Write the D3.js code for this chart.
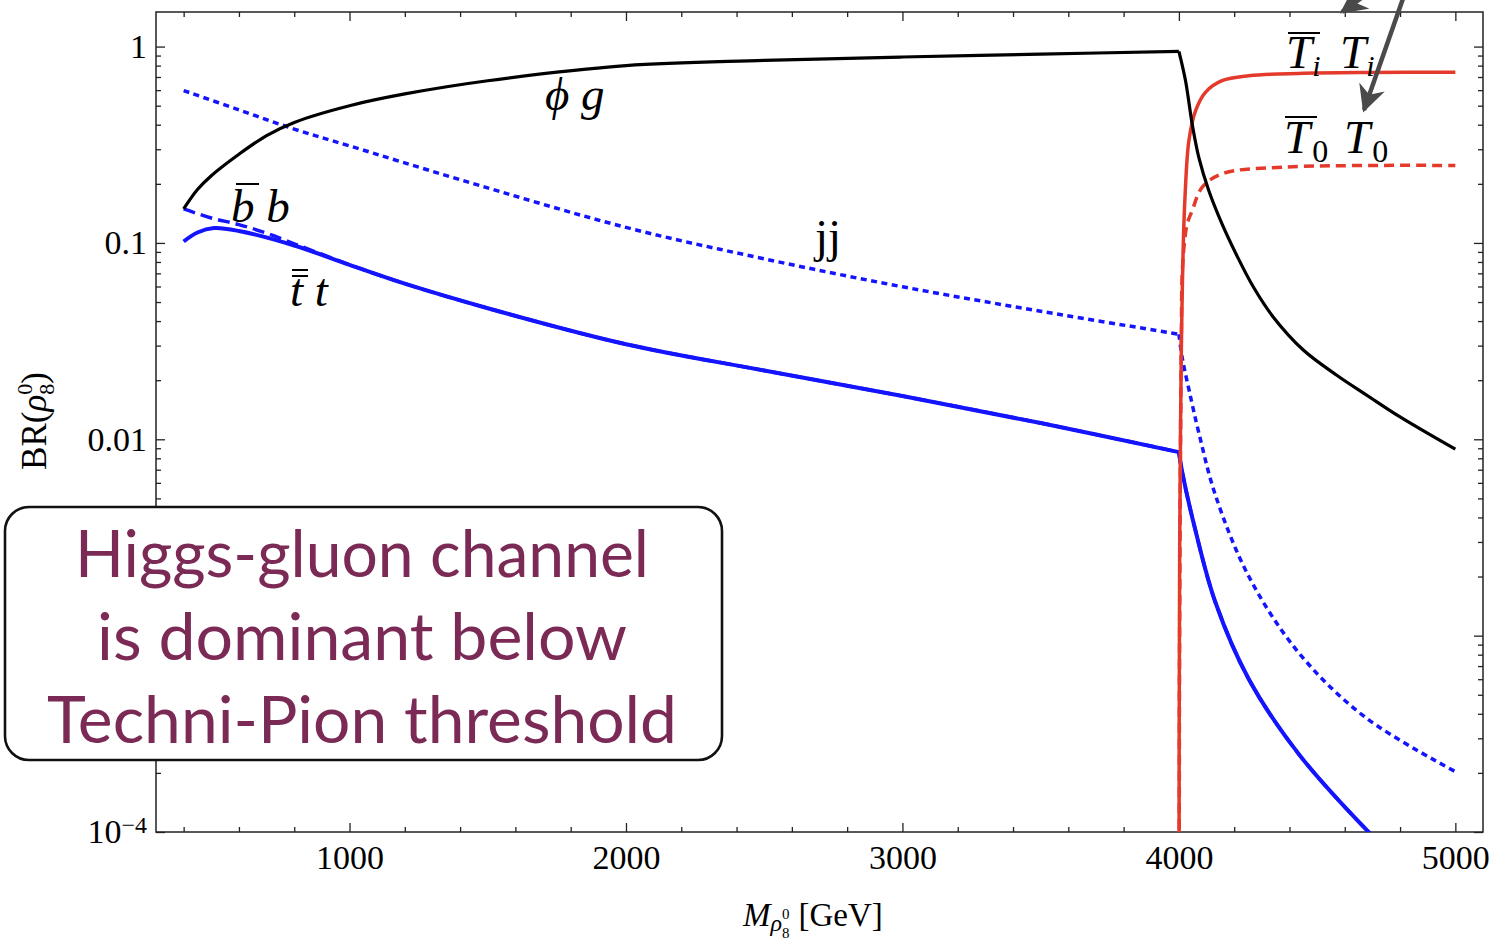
<!DOCTYPE html>
<html>
<head>
<meta charset="utf-8">
<script src="https://cdn.jsdelivr.net/npm/d3@7"></script>
<style>
  body { margin: 0; background: #fff; }
  svg text { font-family: "Liberation Serif", "DejaVu Serif", serif; }
</style>
</head>
<body>
<div id="chart"></div>
<script>
// mass in GeV, branching ratios
const massPhiG = [400, 450, 500, 600, 700, 800, 1000, 1200, 1500, 2000, 2500, 3000, 3500, 4000,
                  4024, 4048, 4072, 4108, 4156, 4209, 4269, 4341, 4450, 4571, 4679, 4800, 5000];
const brPhiG   = [0.149, 0.187, 0.22, 0.283, 0.352, 0.411, 0.50, 0.574, 0.67, 0.80, 0.85, 0.885, 0.915, 0.945,
                  0.67, 0.404, 0.273, 0.185, 0.125, 0.0866, 0.0598, 0.042, 0.0285, 0.0212, 0.0168, 0.0130, 0.0089];

const massJJ = [400, 600, 800, 1000, 1400, 2000, 2500, 3000, 3500, 4000,
                4012, 4036, 4072, 4132, 4253, 4433, 4673, 5000];
const brJJ   = [0.597, 0.476, 0.38, 0.312, 0.21, 0.12, 0.083, 0.0598, 0.0449, 0.0343,
                0.026, 0.018, 0.0108, 0.0052, 0.0020, 0.00082, 0.000385, 0.000203];

const massTT = [400, 450, 510, 600, 800, 1000, 1200, 1500, 2000, 2500, 3000, 3500, 4000,
                4012, 4060, 4132, 4253, 4433, 4686, 4800];
const brTT   = [0.1017, 0.113, 0.119, 0.115, 0.097, 0.0773, 0.062, 0.0465, 0.0305, 0.0224, 0.0166, 0.0121, 0.0086,
                0.0068, 0.00343, 0.00148, 0.0006, 0.00025, 0.0001, 0.00007];

const massBB = [400, 500, 600, 700, 800, 1000, 1200, 1500, 2000, 2500, 3000, 3500, 4000,
                4012, 4060, 4132, 4253, 4433, 4686, 4800];
const brBB   = [0.149, 0.134, 0.124, 0.112, 0.099, 0.0775, 0.062, 0.0465, 0.0305, 0.0224, 0.0166, 0.0121, 0.0086,
                0.0068, 0.00343, 0.00148, 0.0006, 0.00025, 0.0001, 0.00007];

const massTiTi = [4000, 4001, 4003, 4006, 4009, 4012, 4016, 4022, 4036, 4060, 4096, 4156, 4253, 4433, 4700, 5000];
const brTiTi   = [1e-7, 3e-4, 0.003, 0.012, 0.03, 0.055, 0.1, 0.17, 0.33, 0.47, 0.585, 0.67, 0.71, 0.73, 0.738, 0.74];

const massT0T0 = [4000, 4002, 4004, 4006, 4009, 4012, 4020, 4030, 4048, 4084, 4156, 4373, 5000];
const brT0T0   = [1e-7, 5e-4, 0.003, 0.01, 0.035, 0.07, 0.1, 0.125, 0.146, 0.192, 0.225, 0.243, 0.248];

const threshold = 4000; // techni-pion pair threshold, curves have a corner here

const xMajorTicks = [1000, 2000, 3000, 4000, 5000];
const xMinorTicks = d3.range(400, 5001, 200).filter(v => v % 1000 !== 0);
const yMajorTicks = [1e-4, 1e-3, 1e-2, 0.1, 1];
// the 0.001 label sits behind the annotation box in the original
const yTickLabels = ["10", "", "0.01", "0.1", "1"];
const yMinorTicks = [-4, -3, -2, -1].flatMap(e => d3.range(2, 10).map(k => k * Math.pow(10, e)));

const width = 1494, height = 940;
const plotLeft = 156, plotRight = 1483, plotTop = 12, plotBottom = 832;

const svg = d3.select("#chart").append("svg")
    .attr("width", width)
    .attr("height", height);

const x = d3.scaleLinear().domain([300, 5100]).range([plotLeft, plotRight]);
const y = d3.scaleLog().domain([1e-4, 1.5]).range([plotBottom, plotTop]);

svg.append("clipPath").attr("id", "plot-clip")
    .append("rect")
    .attr("x", plotLeft).attr("y", plotTop)
    .attr("width", plotRight - plotLeft).attr("height", plotBottom - plotTop);

// ticks (inward, Mathematica frame style)
const tickStyle = g => {
    g.select(".domain").remove();
    g.selectAll("line").attr("stroke", "#222").attr("stroke-width", 1.3);
    g.selectAll("text").attr("fill", "#000").style("font-size", "34px")
        .style("font-family", "'Liberation Serif', serif");
};

svg.append("g").attr("transform", `translate(0,${plotBottom})`)
    .call(d3.axisBottom(x).tickValues(xMinorTicks).tickSize(-5).tickFormat(""))
    .call(tickStyle);
svg.append("g").attr("transform", `translate(0,${plotBottom})`)
    .call(d3.axisBottom(x).tickValues(xMajorTicks).tickSize(-9).tickPadding(13).tickFormat(d3.format("d")))
    .call(tickStyle);
svg.append("g").attr("transform", `translate(0,${plotTop})`)
    .call(d3.axisTop(x).tickValues(xMinorTicks).tickSize(-5).tickFormat(""))
    .call(tickStyle);
svg.append("g").attr("transform", `translate(0,${plotTop})`)
    .call(d3.axisTop(x).tickValues(xMajorTicks).tickSize(-9).tickFormat(""))
    .call(tickStyle);

svg.append("g").attr("transform", `translate(${plotLeft},0)`)
    .call(d3.axisLeft(y).tickValues(yMinorTicks).tickSize(-5).tickFormat(""))
    .call(tickStyle);
const yAxisMajor = svg.append("g").attr("transform", `translate(${plotLeft},0)`)
    .call(d3.axisLeft(y).tickValues(yMajorTicks).tickSize(-9).tickPadding(9)
        .tickFormat((d, i) => yTickLabels[i]))
    .call(tickStyle);
yAxisMajor.selectAll("text").filter(d => d === 1e-4)
    .append("tspan").attr("dy", "-0.45em").style("font-size", "24px").text("\u22124");

svg.append("g").attr("transform", `translate(${plotRight},0)`)
    .call(d3.axisRight(y).tickValues(yMinorTicks).tickSize(-5).tickFormat(""))
    .call(tickStyle);
svg.append("g").attr("transform", `translate(${plotRight},0)`)
    .call(d3.axisRight(y).tickValues(yMajorTicks).tickSize(-9).tickFormat(""))
    .call(tickStyle);

// frame
svg.append("rect")
    .attr("x", plotLeft).attr("y", plotTop)
    .attr("width", plotRight - plotLeft).attr("height", plotBottom - plotTop)
    .attr("fill", "none").attr("stroke", "#222").attr("stroke-width", 1.5);

// curves
const series = [
    { mass: massTT, br: brTT, color: "#1414ff", width: 4, dash: null },
    { mass: massBB, br: brBB, color: "#1414ff", width: 3.5, dash: "12,6" },
    { mass: massJJ, br: brJJ, color: "#1414ff", width: 3.5, dash: "6,4.5" },
    { mass: massT0T0, br: brT0T0, color: "#e43a2c", width: 3.5, dash: "10,6" },
    { mass: massTiTi, br: brTiTi, color: "#e43a2c", width: 3.5, dash: null },
    { mass: massPhiG, br: brPhiG, color: "#000", width: 3.2, dash: null }
];

const line = d3.line()
    .x(d => x(d[0]))
    .y(d => y(d[1]))
    .curve(d3.curveCatmullRom.alpha(0.5));

// smooth below and above threshold separately so the corner stays sharp
const pieces = series.flatMap(s => {
    const pts = d3.zip(s.mass, s.br);
    return [pts.filter(p => p[0] <= threshold), pts.filter(p => p[0] >= threshold)]
        .filter(p => p.length > 1)
        .map(p => ({ ...s, pts: p }));
});

svg.append("g").attr("clip-path", "url(#plot-clip)")
    .selectAll("path")
    .data(pieces)
    .enter()
    .append("path")
    .attr("d", s => line(s.pts))
    .attr("fill", "none")
    .attr("stroke", s => s.color)
    .attr("stroke-width", s => s.width)
    .attr("stroke-dasharray", s => s.dash)
    .attr("stroke-linejoin", "round");

// curve labels
const labels = svg.append("g").style("font-size", "47px").attr("fill", "#000");

labels.append("text").attr("x", 545).attr("y", 110)
    .style("font-style", "italic").text("\u03d5 g");

labels.append("text").attr("x", 231).attr("y", 222)
    .style("font-style", "italic").text("b b");
labels.append("line").attr("x1", 236).attr("x2", 259).attr("y1", 184).attr("y2", 184)
    .attr("stroke", "#000").attr("stroke-width", 2);

labels.append("text").attr("x", 290).attr("y", 306)
    .style("font-style", "italic").text("t t");
labels.selectAll("line.tbar").data([270, 276]).enter().append("line")
    .attr("class", "tbar")
    .attr("x1", 292).attr("x2", 308).attr("y1", d => d).attr("y2", d => d)
    .attr("stroke", "#000").attr("stroke-width", 2);

labels.append("text").attr("x", 815).attr("y", 252).text("jj");

const ti = labels.append("text").attr("x", 1286).attr("y", 68).style("font-style", "italic");
ti.append("tspan").text("T");
ti.append("tspan").attr("dy", 8).style("font-size", "30px").text("i");
ti.append("tspan").attr("x", 1340).attr("dy", -8).text("T");
ti.append("tspan").attr("dy", 8).style("font-size", "30px").text("i");
labels.append("line").attr("x1", 1288).attr("x2", 1320).attr("y1", 33).attr("y2", 33)
    .attr("stroke", "#000").attr("stroke-width", 2);

const t0 = labels.append("text").attr("x", 1284).attr("y", 153);
t0.append("tspan").style("font-style", "italic").text("T");
t0.append("tspan").attr("dx", 2).attr("dy", 9).style("font-size", "32px").text("0");
t0.append("tspan").attr("x", 1344).attr("dy", -9).style("font-style", "italic").text("T");
t0.append("tspan").attr("dx", 2).attr("dy", 9).style("font-size", "32px").text("0");
labels.append("line").attr("x1", 1285).attr("x2", 1317).attr("y1", 117).attr("y2", 117)
    .attr("stroke", "#000").attr("stroke-width", 2);

// arrows coming in from above
const arrowColor = "#4a4a4a";
svg.append("defs").append("marker")
    .attr("id", "head")
    .attr("viewBox", "0 0 10 10")
    .attr("refX", 9).attr("refY", 5)
    .attr("markerWidth", 6).attr("markerHeight", 6)
    .attr("markerUnits", "strokeWidth")
    .attr("orient", "auto")
    .append("path").attr("d", "M0,0 L10,5 L0,10 L3,5 Z").attr("fill", arrowColor);

svg.append("line").attr("x1", 1406).attr("y1", -10).attr("x2", 1364).attr("y2", 110)
    .attr("stroke", arrowColor).attr("stroke-width", 4.5).attr("marker-end", "url(#head)");
svg.append("line").attr("x1", 1400).attr("y1", -30).attr("x2", 1342).attr("y2", 12)
    .attr("stroke", arrowColor).attr("stroke-width", 4.5).attr("marker-end", "url(#head)");

// axis titles
const yTitle = svg.append("text")
    .attr("transform", "translate(46,421) rotate(-90)")
    .attr("text-anchor", "middle")
    .style("font-size", "35px");
yTitle.append("tspan").text("BR(");
yTitle.append("tspan").style("font-style", "italic").text("\u03c1");
yTitle.append("tspan").attr("dy", -14).style("font-size", "22px").text("0");
yTitle.append("tspan").attr("dx", -11).attr("dy", 22).style("font-size", "22px").text("8");
yTitle.append("tspan").attr("dy", -8).text(")");

const xTitle = svg.append("text").attr("x", 743).attr("y", 926).style("font-size", "33px");
xTitle.append("tspan").style("font-style", "italic").text("M");
xTitle.append("tspan").attr("dy", 5).style("font-size", "24px").style("font-style", "italic").text("\u03c1");
xTitle.append("tspan").attr("dy", -12).style("font-size", "15px").text("0");
xTitle.append("tspan").attr("dx", -7.5).attr("dy", 19).style("font-size", "15px").text("8");
xTitle.append("tspan").attr("dx", 9).attr("dy", -12).text("[GeV]");

// annotation box
const note = svg.append("g");
note.append("rect")
    .attr("x", 5).attr("y", 507)
    .attr("width", 717).attr("height", 253)
    .attr("rx", 24).attr("ry", 24)
    .attr("fill", "#fff").attr("stroke", "#111").attr("stroke-width", 2.6);

const noteLines = [
    { text: "Higgs-gluon channel", y: 577, len: 574 },
    { text: "is dominant below", y: 660, len: 530 },
    { text: "Techni-Pion threshold", y: 743, len: 630 }
];
note.selectAll("text.note")
    .data(noteLines)
    .enter()
    .append("text")
    .attr("class", "note")
    .attr("x", 362)
    .attr("y", d => d.y)
    .attr("text-anchor", "middle")
    .attr("textLength", d => d.len)
    .attr("lengthAdjust", "spacingAndGlyphs")
    .style("font-family", "Lato, 'Open Sans', sans-serif")
    .style("font-size", "65px")
    .attr("fill", "#7b2a55")
    .text(d => d.text);
</script>
</body>
</html>
